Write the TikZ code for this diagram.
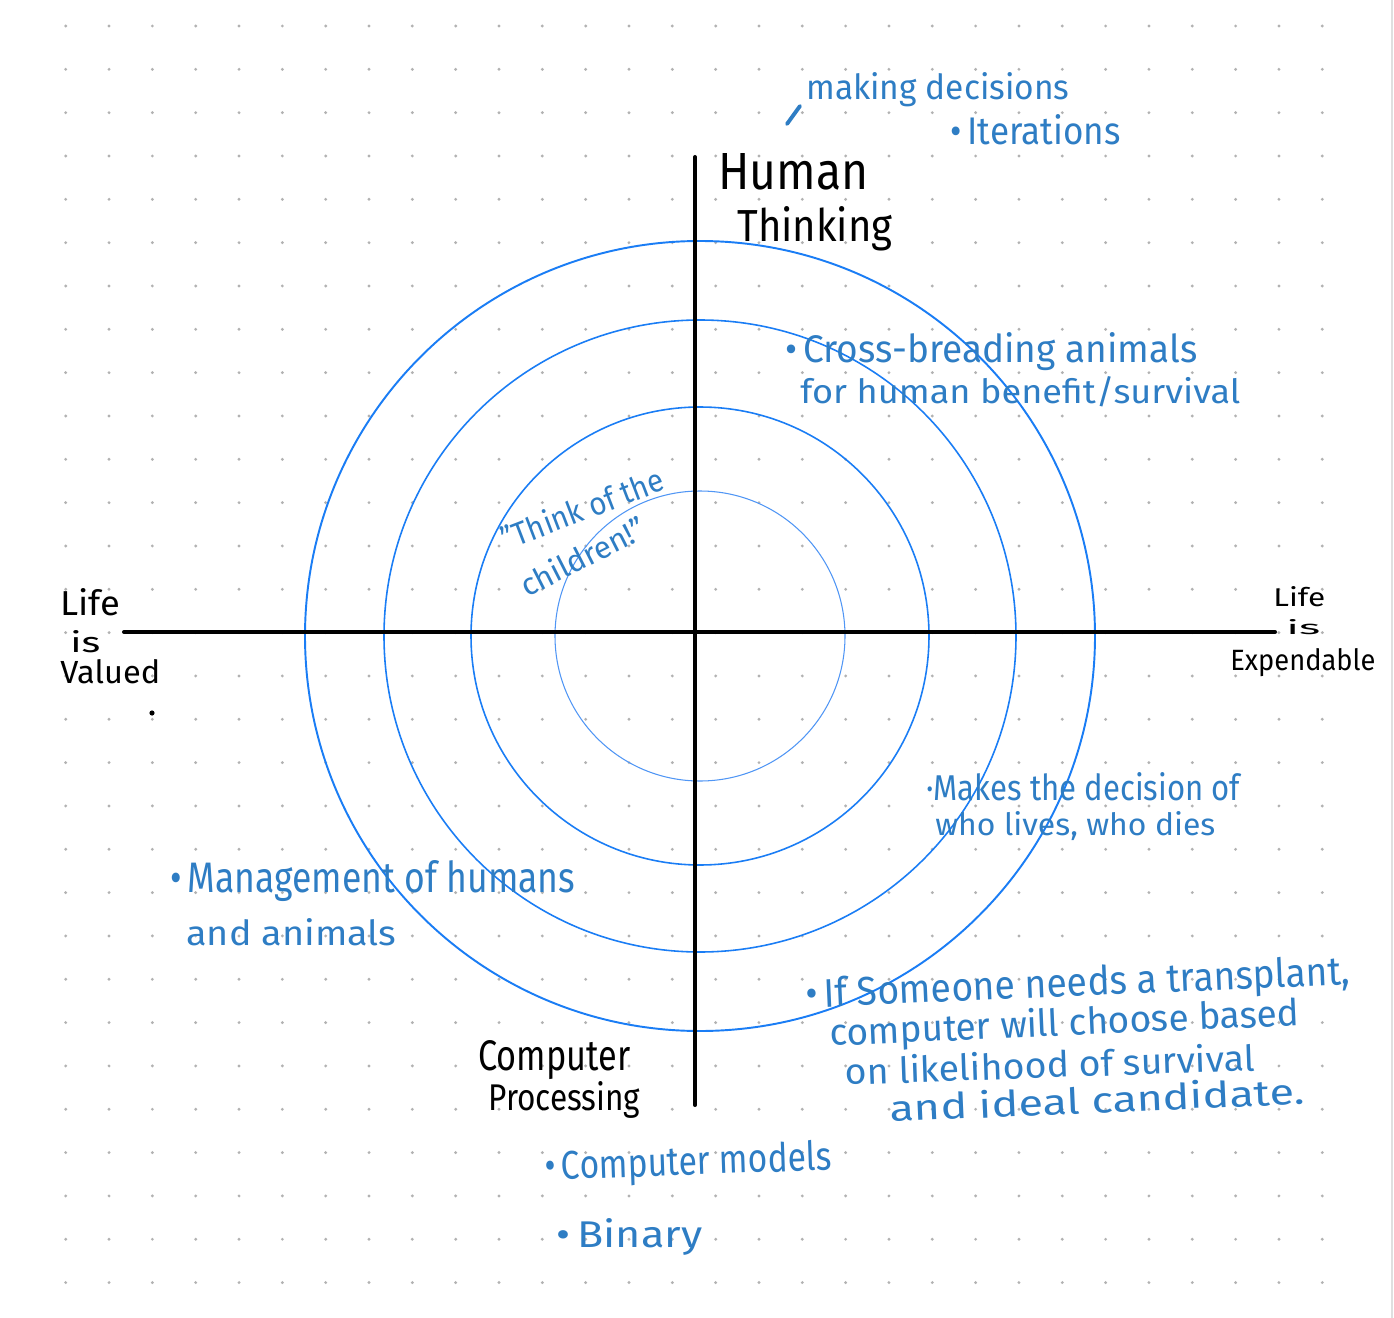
\documentclass[tikz,border=0pt]{standalone}
\usepackage{fontspec}
\setmainfont{Fira Sans}
\newlength\pxu
\setlength\pxu{0.02cm}
\newcommand\fitwh[3]{\resizebox{#1\pxu}{#2\pxu}{#3}}
\definecolor{inkblue}{RGB}{46,125,196}
\definecolor{ringblue}{RGB}{26,125,245}
\definecolor{ringlight}{RGB}{80,150,245}
\definecolor{dotgray}{RGB}{178,178,178}
\tikzset{
  bluenote/.style={text=inkblue, inner sep=0pt, anchor=base west},
  blacklabel/.style={text=black, inner sep=0pt, anchor=base west},
  axisline/.style={draw=black, line width=2.3pt, line cap=round},
  ringouter/.style={draw=ringblue, line width=1.1pt},
  ringmid/.style={draw=ringblue, line width=0.9pt},
  ringinner/.style={draw=ringlight, line width=0.6pt},
  bluestroke/.style={draw=inkblue, line width=2.2pt, line cap=round},
}
\begin{document}
\begin{tikzpicture}[x=0.02cm, y=-0.02cm]
\useasboundingbox (0,0) rectangle (1394,1318);
\fill[white] (0,0) rectangle (1394,1318);
% dot grid
\foreach \i in {0,...,29}{
  \foreach \j in {0,...,29}{
    \fill[dotgray] (65.7+43.33*\i, 26+43.33*\j) circle (1.6);
  }
}
\draw[gray!25, line width=0.6pt] (1392,0) -- (1392,1318);
% rings
\coordinate (C) at (700,636);
\draw[ringouter] (C) circle (395);
\draw[ringmid] (C) circle (316);
\draw[ringmid] (C) circle (229);
\draw[ringinner] (C) circle (145);
% axes
\coordinate (L) at (124,632);
\coordinate (R) at (1275,632);
\coordinate (T) at (695,157);
\coordinate (B) at (695,1105);
\draw[axisline] (L) -- (R);
\draw[axisline] (T) -- (B);
% axis labels
\node[blacklabel] (human) at (718,190) {\fitwh{150}{36}{Human}};
\node[blacklabel] (thinking) at (737,242) {\fitwh{155}{35}{Thinking}};
\node[blacklabel] (lifeL) at (60,615) {\fitwh{60}{27}{Life}};
\node[blacklabel] (isL) at (70,652) {\fitwh{30}{22}{is}};
\node[blacklabel] (valued) at (60,683) {\fitwh{100}{24}{Valued}};
\fill[black] (152,713) circle (2.6);
\node[blacklabel] (lifeR) at (1273,606) {\fitwh{52}{20}{Life}};
\node[blacklabel] (isR) at (1286,634) {\fitwh{34}{15}{is}};
\node[blacklabel] (expendable) at (1230,670) {\fitwh{145}{22}{Expendable}};
\node[blacklabel] (computer) at (478,1070) {\fitwh{152}{30}{Computer}};
\node[blacklabel] (processing) at (488,1110) {\fitwh{152}{29}{Processing}};
% blue notes
\coordinate (s1) at (787,124);
\coordinate (s2) at (800,106);
\draw[bluestroke] (s1) -- (s2);
\node[bluenote] (making) at (806,100) {\fitwh{263}{27}{making decisions}};
\node[bluenote] (iter) at (950,145) {\fitwh{170}{30}{•\,Iterations}};
\node[bluenote] (cross1) at (785,362) {\fitwh{412}{30}{•\,Cross-breading animals}};
\node[bluenote] (cross2) at (800,403) {\fitwh{440}{27}{for human benefit/survival}};
\node[bluenote, rotate=21] (think1) at (506,551) {\fitwh{172}{25}{"Think of the}};
\node[bluenote, rotate=27] (think2) at (527,598) {\fitwh{136}{24}{children!"}};
\node[bluenote] (makes1) at (926,800) {\fitwh{314}{28}{·Makes the decision of}};
\node[bluenote] (makes2) at (935,835) {\fitwh{280}{24}{who lives, who dies}};
\node[bluenote] (mgmt1) at (170,892) {\fitwh{405}{32}{•\,Management of humans}};
\node[bluenote] (mgmt2) at (186,945) {\fitwh{210}{27}{and animals}};
\node[bluenote, rotate=2.5] (tr1) at (806,1008) {\fitwh{545}{30}{•\,If Someone needs a transplant,}};
\node[bluenote, rotate=2.5] (tr2) at (830,1046) {\fitwh{470}{29}{computer will choose based}};
\node[bluenote, rotate=2] (tr3) at (845,1085) {\fitwh{410}{28}{on likelihood of survival}};
\node[bluenote, rotate=2.5] (tr4) at (890,1122) {\fitwh{415}{28}{and ideal candidate.}};
\node[bluenote, rotate=2] (models) at (545,1180) {\fitwh{287}{30}{•\,Computer models}};
\node[bluenote] (binary) at (556,1247) {\fitwh{146}{29}{•\,Binary}};
\end{tikzpicture}
\end{document}
